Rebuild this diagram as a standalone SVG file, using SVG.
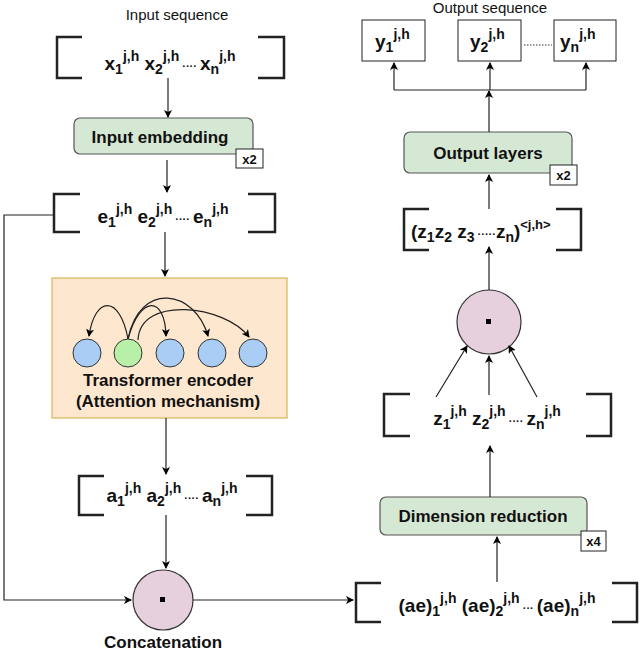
<svg xmlns="http://www.w3.org/2000/svg" width="640" height="655" viewBox="0 0 640 655">
<defs>
<marker id="ar" markerWidth="8" markerHeight="8" refX="7" refY="4" orient="auto" markerUnits="userSpaceOnUse"><path d="M0,0 L8,4 L0,8 L2,4 z" fill="#000"/></marker>
</defs>
<style>
text{font-family:"Liberation Sans",Arial,sans-serif;fill:#111}
.b{font-weight:bold;font-size:17px}
.m{font-weight:bold;font-size:19px}
.s{font-size:13px;font-weight:bold}
.br{fill:none;stroke:#222;stroke-width:2.5}
.c{fill:none;stroke:#222;stroke-width:1.2}
.g{fill:#d5e8d4;stroke:#555;stroke-width:1.2}
.t{fill:#fff;stroke:#222;stroke-width:1}
</style>
<g id="labels">
<text x="177" y="20" text-anchor="middle" font-size="15" fill="#333">Input sequence</text>
<text x="490" y="13" text-anchor="middle" font-size="15" fill="#333">Output sequence</text>
</g>
<g id="x-seq">
<path class="br" d="M82,37 H57 V78 H82 M258,37 H284 V78 H258"/>
<text x="170" y="70" text-anchor="middle" class="m">x<tspan dy="4" font-size="14">1</tspan><tspan dy="-13" font-size="14">j,h</tspan><tspan dy="9"> x</tspan><tspan dy="4" font-size="14">2</tspan><tspan dy="-13" font-size="14">j,h</tspan><tspan dy="9" font-size="11"> ···· </tspan><tspan>x</tspan><tspan dy="4" font-size="14">n</tspan><tspan dy="-13" font-size="14">j,h</tspan></text>
</g>
<g id="input-embedding">
<rect class="g" x="74" y="118" width="179" height="36" rx="6"/>
<text x="160" y="143" text-anchor="middle" class="b">Input embedding</text>
<rect class="t" x="236" y="149" width="27" height="19"/>
<text x="249.5" y="163.5" text-anchor="middle" class="s">x2</text>
</g>
<g id="e-seq">
<path class="br" d="M80,194 H54 V232 H80 M248,194 H275 V232 H248"/>
<text x="163" y="223" text-anchor="middle" class="m">e<tspan dy="4" font-size="14">1</tspan><tspan dy="-13" font-size="14">j,h</tspan><tspan dy="9"> e</tspan><tspan dy="4" font-size="14">2</tspan><tspan dy="-13" font-size="14">j,h</tspan><tspan dy="9" font-size="11"> ···· </tspan><tspan>e</tspan><tspan dy="4" font-size="14">n</tspan><tspan dy="-13" font-size="14">j,h</tspan></text>
</g>
<g id="transformer">
<rect x="52" y="278" width="235" height="140" fill="#fde7cf" stroke="#d6b656" stroke-width="1.2"/>
<circle cx="87" cy="353" r="14" fill="#a9cdf5" stroke="#333"/>
<circle cx="128" cy="353" r="14" fill="#b9f0a8" stroke="#333"/>
<circle cx="170" cy="353" r="14" fill="#a9cdf5" stroke="#333"/>
<circle cx="212" cy="353" r="14" fill="#a9cdf5" stroke="#333"/>
<circle cx="253" cy="353" r="14" fill="#a9cdf5" stroke="#333"/>
<path class="c" d="M128,339 C120,295 95,295 89,336" marker-end="url(#ar)"/>
<path class="c" d="M128,339 C140,295 165,295 166,336" marker-end="url(#ar)"/>
<path class="c" d="M128,339 C140,280 195,290 208,336" marker-end="url(#ar)"/>
<path class="c" d="M138,340 C140,295 225,305 249,337" marker-end="url(#ar)"/>
<text x="168" y="386" text-anchor="middle" class="b">Transformer encoder</text>
<text x="168" y="407" text-anchor="middle" class="b">(Attention mechanism)</text>
</g>
<g id="a-seq">
<path class="br" d="M104,476 H79 V515 H104 M246,476 H272 V515 H246"/>
<text x="172" y="502" text-anchor="middle" class="m">a<tspan dy="4" font-size="14">1</tspan><tspan dy="-13" font-size="14">j,h</tspan><tspan dy="9"> a</tspan><tspan dy="4" font-size="14">2</tspan><tspan dy="-13" font-size="14">j,h</tspan><tspan dy="9" font-size="11"> ···· </tspan><tspan>a</tspan><tspan dy="4" font-size="14">n</tspan><tspan dy="-13" font-size="14">j,h</tspan></text>
</g>
<g id="concatenation">
<circle cx="163" cy="600" r="30" fill="#e6d0de" stroke="#333" stroke-width="1.2"/>
<rect x="160" y="597" width="5" height="5" fill="#000"/>
<text x="163" y="648" text-anchor="middle" class="b">Concatenation</text>
</g>
<g id="ae-seq">
<path class="br" d="M381,583 H356 V622 H381 M612,583 H637 V622 H612"/>
<text x="497" y="612" text-anchor="middle" class="m">(ae)<tspan dy="4" font-size="14">1</tspan><tspan dy="-13" font-size="14">j,h</tspan><tspan dy="9"> (ae)</tspan><tspan dy="4" font-size="14">2</tspan><tspan dy="-13" font-size="14">j,h</tspan><tspan dy="9" font-size="11"> ··· </tspan><tspan>(ae)</tspan><tspan dy="4" font-size="14">n</tspan><tspan dy="-13" font-size="14">j,h</tspan></text>
</g>
<g id="dimension-reduction">
<rect class="g" x="380" y="497" width="207" height="38" rx="6"/>
<text x="483" y="522" text-anchor="middle" class="b">Dimension reduction</text>
<rect class="t" x="581" y="531" width="25" height="20"/>
<text x="593.5" y="546" text-anchor="middle" class="s">x4</text>
</g>
<g id="z-seq">
<path class="br" d="M410,394 H384 V436 H410 M586,394 H611 V436 H586"/>
<text x="497" y="425" text-anchor="middle" class="m">z<tspan dy="4" font-size="14">1</tspan><tspan dy="-13" font-size="14">j,h</tspan><tspan dy="9">  z</tspan><tspan dy="4" font-size="14">2</tspan><tspan dy="-13" font-size="14">j,h</tspan><tspan dy="9" font-size="11"> ···· </tspan><tspan>z</tspan><tspan dy="4" font-size="14">n</tspan><tspan dy="-13" font-size="14">j,h</tspan></text>
</g>
<g id="product">
<circle cx="489" cy="322" r="32" fill="#e6d0de" stroke="#333" stroke-width="1.2"/>
<rect x="486" y="319" width="5" height="5" fill="#000"/>
</g>
<g id="z-vector">
<path class="br" d="M429,209 H404 V250 H429 M556,209 H581 V250 H556"/>
<text x="411" y="238" class="m">(z<tspan dy="4" font-size="14">1</tspan><tspan dy="-4">z</tspan><tspan dy="4" font-size="14">2</tspan><tspan dy="-4"> z</tspan><tspan dy="4" font-size="14">3</tspan><tspan dy="-4" font-size="11"> ·····</tspan><tspan>z</tspan><tspan dy="4" font-size="14">n</tspan><tspan dy="-4">)</tspan><tspan dy="-9" font-size="13">&lt;j,h&gt;</tspan></text>
</g>
<g id="output-layers">
<rect class="g" x="404" y="132" width="168" height="41" rx="6"/>
<text x="488" y="159" text-anchor="middle" class="b">Output layers</text>
<rect class="t" x="550" y="165" width="27" height="20"/>
<text x="563.5" y="180" text-anchor="middle" class="s">x2</text>
</g>
<g id="outputs">
<rect class="t" x="362" y="20" width="63" height="41"/>
<text x="375" y="48" class="m">y<tspan dy="4" font-size="14">1</tspan><tspan dy="-13" font-size="14">j,h</tspan></text>
<rect class="t" x="458" y="20" width="63" height="41"/>
<text x="470" y="48" class="m">y<tspan dy="4" font-size="14">2</tspan><tspan dy="-13" font-size="14">j,h</tspan></text>
<rect class="t" x="554" y="20" width="62" height="41"/>
<text x="560" y="48" class="m">y<tspan dy="4" font-size="14">n</tspan><tspan dy="-13" font-size="14">j,h</tspan></text>
<line x1="524" y1="45" x2="552" y2="45" stroke="#333" stroke-dasharray="1.5,1.5"/>
</g>
<g id="connectors" class="c">
<line x1="168" y1="78" x2="168" y2="117" marker-end="url(#ar)"/>
<line x1="167" y1="160" x2="167" y2="192" marker-end="url(#ar)"/>
<line x1="165" y1="232" x2="165" y2="276" marker-end="url(#ar)"/>
<polyline points="54,215 4,215 4,600 131,600" fill="none" marker-end="url(#ar)"/>
<line x1="166" y1="418" x2="166" y2="474" marker-end="url(#ar)"/>
<line x1="166" y1="515" x2="166" y2="568" marker-end="url(#ar)"/>
<line x1="193" y1="600" x2="353" y2="600" marker-end="url(#ar)"/>
<line x1="497" y1="582" x2="497" y2="537" marker-end="url(#ar)"/>
<line x1="490" y1="497" x2="490" y2="446" marker-end="url(#ar)"/>
<line x1="436" y1="397" x2="467" y2="346" marker-end="url(#ar)"/>
<line x1="489" y1="395" x2="489" y2="356" marker-end="url(#ar)"/>
<line x1="537" y1="397" x2="509" y2="346" marker-end="url(#ar)"/>
<line x1="489" y1="290" x2="489" y2="247" marker-end="url(#ar)"/>
<line x1="489" y1="209" x2="489" y2="175" marker-end="url(#ar)"/>
<line x1="489" y1="132" x2="489" y2="91" marker-end="url(#ar)"/>
<polyline points="394,90 586,90" fill="none"/>
<line x1="394" y1="90" x2="394" y2="63" marker-end="url(#ar)"/>
<line x1="490" y1="90" x2="490" y2="63" marker-end="url(#ar)"/>
<line x1="586" y1="90" x2="586" y2="63" marker-end="url(#ar)"/>
</g>
</svg>
